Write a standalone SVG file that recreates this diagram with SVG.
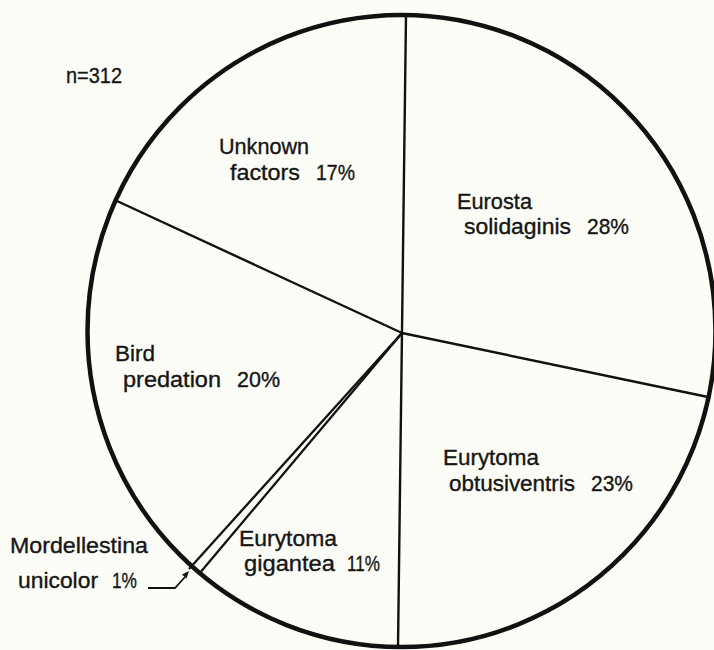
<svg xmlns="http://www.w3.org/2000/svg" width="714" height="650" viewBox="0 0 714 650">
<style>
.bg{fill:#fdfdf7}
.rim{fill:none;stroke:#111;stroke-width:4.5}
.div{stroke:#111;stroke-width:2.4;fill:none;stroke-linecap:round}
.thin{stroke:#111;stroke-width:2.3;fill:none}
.lead{stroke:#111;stroke-width:1.8;fill:none}
text{font-family:"Liberation Sans","DejaVu Sans",sans-serif;font-size:22px;fill:#151515;stroke:#151515;stroke-width:0.35}
</style>
<rect class="bg" x="0" y="0" width="714" height="650"/>
<g id="connectors">
<line class="div" x1="406" y1="15" x2="398" y2="647"/>
<line class="div" x1="402" y1="333" x2="708" y2="397"/>
<line class="div" x1="402" y1="333" x2="117" y2="201"/>
<line class="thin" x1="402" y1="333" x2="189" y2="569"/>
<line class="thin" x1="402" y1="333" x2="199" y2="574"/>
<polyline class="lead" points="148,588 175,588 185,577"/>
<polygon points="189,571 186.5,578.5 182,574.5" fill="#111"/>
</g>
<g id="pie">
<ellipse class="rim" cx="401.5" cy="331" rx="314" ry="316"/>
</g>
<g id="n">
<text x="66" y="83" textLength="56" lengthAdjust="spacingAndGlyphs">n=312</text>
</g>
<g id="unknown">
<text x="219" y="154" textLength="90" lengthAdjust="spacingAndGlyphs">Unknown</text>
<text y="180"><tspan x="230" textLength="70" lengthAdjust="spacingAndGlyphs">factors</tspan> <tspan x="316" textLength="39" lengthAdjust="spacingAndGlyphs">17%</tspan></text>
</g>
<g id="eurosta">
<text x="457" y="209" textLength="75" lengthAdjust="spacingAndGlyphs">Eurosta</text>
<text y="234"><tspan x="464" textLength="107" lengthAdjust="spacingAndGlyphs">solidaginis</tspan> <tspan x="587" textLength="42" lengthAdjust="spacingAndGlyphs">28%</tspan></text>
</g>
<g id="bird">
<text x="115" y="361" textLength="40" lengthAdjust="spacingAndGlyphs">Bird</text>
<text y="387"><tspan x="123" textLength="98" lengthAdjust="spacingAndGlyphs">predation</tspan> <tspan x="237" textLength="43" lengthAdjust="spacingAndGlyphs">20%</tspan></text>
</g>
<g id="obtusiventris">
<text x="443" y="465" textLength="96" lengthAdjust="spacingAndGlyphs">Eurytoma</text>
<text y="491"><tspan x="449" textLength="126" lengthAdjust="spacingAndGlyphs">obtusiventris</tspan> <tspan x="591" textLength="42" lengthAdjust="spacingAndGlyphs">23%</tspan></text>
</g>
<g id="gigantea">
<text x="239" y="546" textLength="98" lengthAdjust="spacingAndGlyphs">Eurytoma</text>
<text y="571"><tspan x="244" textLength="91" lengthAdjust="spacingAndGlyphs">gigantea</tspan> <tspan x="347" textLength="33" lengthAdjust="spacingAndGlyphs">11%</tspan></text>
</g>
<g id="mordellestina">
<text x="10" y="553" textLength="138" lengthAdjust="spacingAndGlyphs">Mordellestina</text>
<text y="588"><tspan x="18" textLength="80" lengthAdjust="spacingAndGlyphs">unicolor</tspan> <tspan x="112" textLength="25" lengthAdjust="spacingAndGlyphs">1%</tspan></text>
</g>
</svg>
